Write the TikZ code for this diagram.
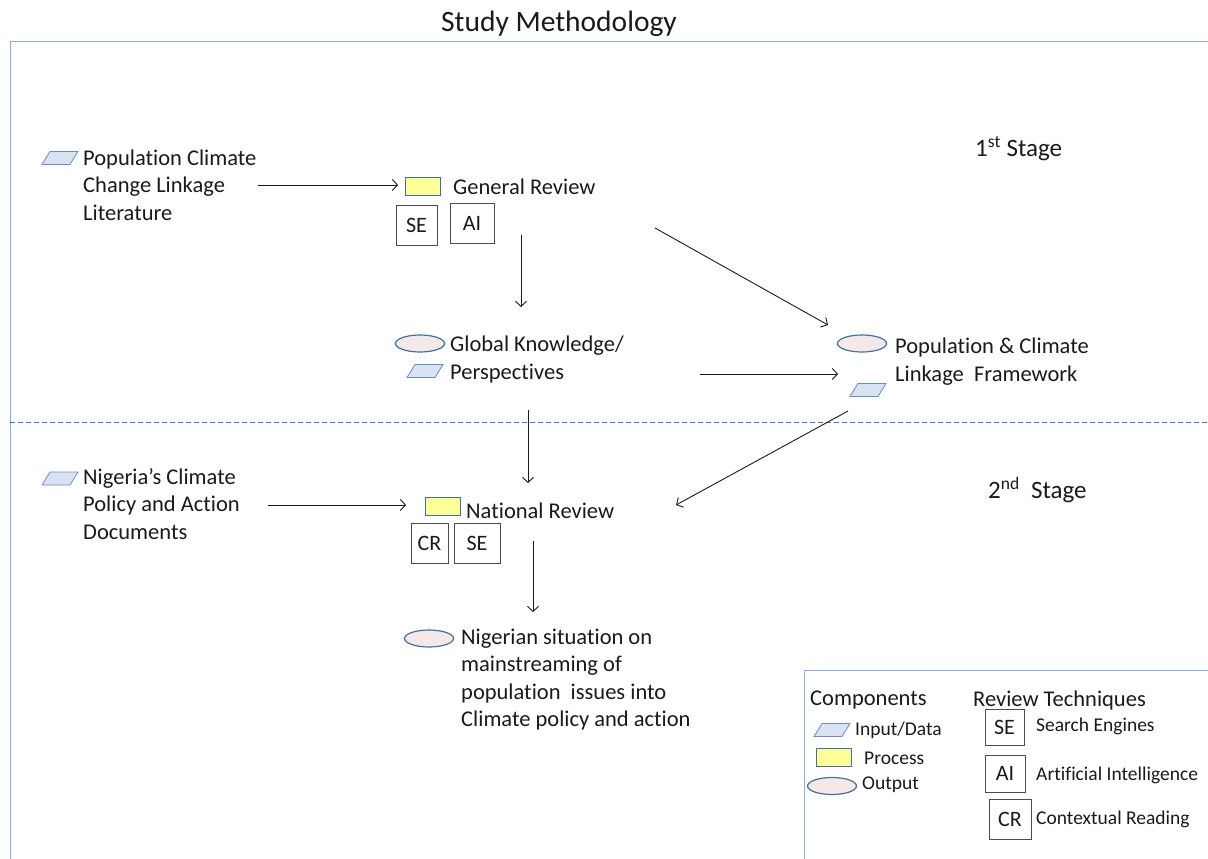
\documentclass[tikz,border=0pt]{standalone}
\usepackage{fontspec}
\setmainfont[Ligatures={CommonOff}]{Carlito}
\usetikzlibrary{arrows.meta,shapes.geometric}
\definecolor{framecol}{HTML}{8FAADC}
\definecolor{dashcol}{HTML}{4472C4}
\definecolor{inpfill}{HTML}{DAE3F3}
\definecolor{inpdraw}{HTML}{6A8CC7}
\definecolor{procfill}{HTML}{FFFF99}
\definecolor{procdraw}{HTML}{41719C}
\definecolor{outfill}{HTML}{F4E8E8}
\definecolor{outdraw}{HTML}{41719C}
\definecolor{txt}{HTML}{1A1A1A}
\tikzset{
  x=1pt,y=-1pt,
  main/.style={font=\fontsize{22.5}{27.5}\selectfont, text=txt, align=left, inner sep=0pt, anchor=west},
  stagelbl/.style={font=\fontsize{25}{30}\selectfont, text=txt, inner sep=0pt, anchor=west},
  small/.style={font=\fontsize{19.5}{24}\selectfont, text=txt, inner sep=0pt, anchor=west},
  arr/.style={draw=txt, line width=0.9pt, -{Straight Barb[length=5pt,width=11pt]}},
  inp/.style={draw=inpdraw, fill=inpfill, line width=0.8pt},
  proc/.style={draw=procdraw, fill=procfill, line width=1pt, rectangle, minimum width=35pt, minimum height=18pt, inner sep=0pt},
  outp/.style={draw=outdraw, fill=outfill, line width=1.2pt, ellipse, minimum width=49pt, minimum height=17pt, inner sep=0pt},
  tech/.style={draw=black!70, line width=0.8pt, rectangle, inner sep=0pt, font=\fontsize{22}{26}\selectfont, text=txt},
}
\newcommand{\inpshape}[3]{% name, x, y
  \draw[inp] (#2-10,#3-6.5) -- (#2+18,#3-6.5) -- (#2+10,#3+6.5) -- (#2-18,#3+6.5) -- cycle;
  \coordinate (#1) at (#2,#3);
}
\begin{document}
\begin{tikzpicture}
\useasboundingbox (0,0) rectangle (1208,859);
% frame
\draw[framecol, line width=1pt] (10,859) -- (10,42) -- (1208,42);
\node[font=\fontsize{29.5}{34}\selectfont, text=txt, inner sep=0pt] (title) at (559,24) {Study Methodology};
\draw[dashcol, line width=1pt, dash pattern=on 5pt off 3pt] (10,422) -- (1208,422);
% legend frame
\draw[framecol, line width=1pt] (804,859) -- (804,670) -- (1208,670);

% stage labels
\node[stagelbl] (s1) at (975,149) {1\textsuperscript{st} Stage};
\node[stagelbl] (s2) at (988,490) {2\textsuperscript{nd}\ \ Stage};

% stage 1
\inpshape{i1}{60}{158}
\node[main] (lit) at (83,185) {Population Climate\\Change Linkage\\Literature};
\node[proc] (gr) at (422.5,186.5) {};
\node[main] (grt) at (453,187) {General Review};
\node[tech, minimum width=41pt, minimum height=40pt] (se1) at (416.5,225) {SE};
\node[tech, minimum width=44pt, minimum height=40pt] (ai1) at (472,223) {AI};

\node[outp] (o1) at (420,343.5) {};
\inpshape{i2}{425}{371}
\node[main] (gk) at (450,359.5) {Global Knowledge/\\Perspectives};

\node[outp] (o2) at (862,343.5) {};
\inpshape{i3}{868}{390}
\node[main] (pcl) at (895,361.5) {Population \& Climate\\Linkage\ \ Framework};

\coordinate (a1s) at (258,185); \coordinate (a1e) at (398,185);
\draw[arr] (a1s) -- (a1e);
\coordinate (a2s) at (521,235); \coordinate (a2e) at (521,307);
\draw[arr] (a2s) -- (a2e);
\coordinate (a3s) at (655,228); \coordinate (a3e) at (828,325);
\draw[arr] (a3s) -- (a3e);
\coordinate (a4s) at (700,374); \coordinate (a4e) at (838,374);
\draw[arr] (a4s) -- (a4e);

% stage 2
\inpshape{i4}{60}{478.5}
\node[main] (nig) at (83,504) {Nigeria’s Climate\\Policy and Action\\Documents};
\node[proc] (nr) at (442.5,506) {};
\node[main] (nrt) at (466,511) {National Review};
\node[tech, minimum width=37pt, minimum height=40pt] (cr2) at (429.5,543) {CR};
\node[tech, minimum width=46pt, minimum height=40pt] (se2) at (477,543) {SE};

\node[outp] (o3) at (429,638.5) {};
\node[main] (ns) at (461,679.5) {Nigerian situation on\\mainstreaming of\\population\ \ issues into\\Climate policy and action};

\coordinate (b1s) at (528,410); \coordinate (b1e) at (528,483);
\draw[arr] (b1s) -- (b1e);
\coordinate (b2s) at (848,411); \coordinate (b2e) at (676,505);
\draw[arr] (b2s) -- (b2e);
\coordinate (b3s) at (268,505); \coordinate (b3e) at (406,505);
\draw[arr] (b3s) -- (b3e);
\coordinate (b4s) at (533,541); \coordinate (b4e) at (533,612);
\draw[arr] (b4s) -- (b4e);

% legend
\node[main] (comp) at (810,700) {Components};
\node[main] (rt) at (973,700) {Review Techniques};
\inpshape{li}{832}{730}
\node[small] (lit1) at (855,730) {Input/Data};
\node[proc] (lp) at (833.5,757.5) {};
\node[small] (lpt) at (864,758) {Process};
\node[outp] (lo) at (832,786) {};
\node[small] (lot) at (862,785) {Output};
\node[tech, minimum width=39pt, minimum height=36pt] (lse) at (1004.5,727) {SE};
\node[small] (lset) at (1036,726) {Search Engines};
\node[tech, minimum width=40pt, minimum height=37pt] (lai) at (1005,773.5) {AI};
\node[small] (lait) at (1036,775) {Artificial Intelligence};
\node[tech, minimum width=42pt, minimum height=40pt] (lcr) at (1010,819) {CR};
\node[small] (lcrt) at (1036,819) {Contextual Reading};
\end{tikzpicture}
\end{document}
